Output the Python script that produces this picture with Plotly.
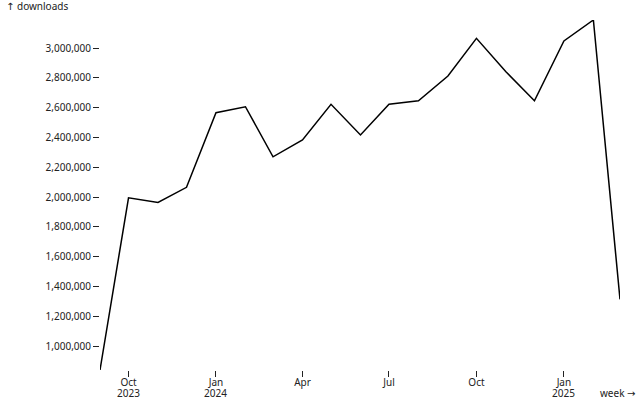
import plotly.graph_objects as go

weeks = ["2023-09-01", "2023-10-01", "2023-11-01", "2023-12-01", "2024-01-01",
         "2024-02-01", "2024-03-01", "2024-04-01", "2024-05-01", "2024-06-01",
         "2024-07-01", "2024-08-01", "2024-09-01", "2024-10-01", "2024-11-01",
         "2024-12-01", "2025-01-01", "2025-02-01", "2025-03-01"]
downloads = [839000, 1995000, 1964000, 2065000, 2566000,
             2606000, 2270000, 2383000, 2622000, 2416000,
             2622000, 2646000, 2812000, 3065000, 2841000,
             2646000, 3047000, 3188000, 1313000]

x_tick_vals = ["2023-10-01", "2024-01-01", "2024-04-01", "2024-07-01", "2024-10-01", "2025-01-01"]
x_tick_text = ["Oct", "Jan", "Apr", "Jul", "Oct", "Jan"]
year_vals = ["2023-10-01", "2024-01-01", "2025-01-01"]
year_text = ["2023", "2024", "2025"]
y_tick_vals = list(range(1000000, 3000001, 200000))
y_tick_text = [f"{v:,}" for v in y_tick_vals]

font = dict(family="Noto Sans, Open Sans, sans-serif", size=10, color="#222")
arrow_span = "<span style='font-family:DejaVu Sans'>{}</span>"

fig = go.Figure(go.Scatter(x=weeks, y=downloads, mode="lines",
                           line=dict(color="black", width=1.5),
                           hoverinfo="skip"))

annotations = [
    dict(text=arrow_span.format("↑") + " downloads", xref="paper", yref="paper",
         x=-96/520, y=1 + 14/350, xanchor="left", yanchor="middle",
         showarrow=False, font=font),
    dict(text="week " + arrow_span.format("→"), xref="paper", yref="paper",
         x=1 + 17/520, y=-23/350, xanchor="right", yanchor="middle",
         showarrow=False, font=font),
]
for xv, yt in zip(year_vals, year_text):
    annotations.append(dict(text=yt, xref="x", yref="paper", x=xv, y=-22.5/350,
                            xanchor="center", yanchor="middle", showarrow=False,
                            font=font))

fig.update_layout(
    width=640, height=400,
    margin=dict(l=100, r=20, t=20, b=30),
    paper_bgcolor="white", plot_bgcolor="white",
    showlegend=False, font=font,
    xaxis=dict(range=[weeks[0], weeks[-1]], tickvals=x_tick_vals, ticktext=x_tick_text,
               ticks="outside", ticklen=6, tickcolor="#222", showgrid=False,
               ticklabelstandoff=-3,
               zeroline=False, showline=False, tickfont=font, automargin=False),
    yaxis=dict(range=[min(downloads), max(downloads)], tickvals=y_tick_vals,
               ticktext=y_tick_text, ticks="outside", ticklen=6, tickcolor="#222",
               showgrid=False, zeroline=False, showline=False, tickfont=font, automargin=False),
    annotations=annotations,
)

fig.write_html("out.html", config={"displayModeBar": False},
               post_script="document.body.style.margin='0';")
